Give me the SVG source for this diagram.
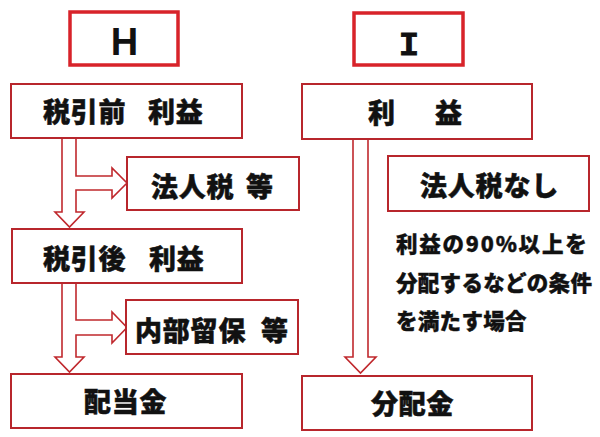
<svg xmlns="http://www.w3.org/2000/svg" width="600" height="437" viewBox="0 0 600 437">
<style>
.hd{fill:#fff;stroke:#d8232a;stroke-width:3.5}
.bx{fill:#fff;stroke:#b8262c;stroke-width:2}
.ar{fill:#fff;stroke:#c0282d;stroke-width:1.6;stroke-linejoin:miter}
.t{font-family:"Noto Sans CJK JP","Noto Sans",sans-serif;font-weight:900;font-size:27px;letter-spacing:0.8px;fill:#111;stroke:#111;stroke-width:0.5}
.s{font-family:"Noto Sans CJK JP","Noto Sans",sans-serif;font-weight:900;font-size:21.5px;letter-spacing:0.3px;fill:#111;stroke:#111;stroke-width:0.4}
</style>
<rect width="600" height="437" fill="#fff"/>
<g id="connectors">
<path class="ar" d="M62,139 V212 H55 L69.5,227 L84,212 H76 V190 H112 V198 L127,183 L112,168 V176 H76 V139"/>
<path class="ar" d="M62,284 V357 H55 L69.5,372 L84,357 H76 V335 H112 V343 L127,327.5 L112,312 V320 H76 V284"/>
<path class="ar" d="M353,140 V357 H345 L360.5,373 L376,357 H368 V140"/>
</g>
<g id="headH"><rect class="hd" x="70" y="12" width="108" height="53"/><text x="124.5" y="55" text-anchor="middle" style="font-family:'Liberation Sans',Arial,sans-serif;font-weight:700;font-size:38px;fill:#111">H</text></g>
<g id="headI"><rect class="hd" x="354" y="13" width="109" height="52"/><text x="409" y="55" text-anchor="middle" style="font-family:'Liberation Mono','Courier New',monospace;font-weight:700;font-size:34px;fill:#111;stroke:#111;stroke-width:0.8">I</text></g>
<g id="pretax"><rect class="bx" x="11" y="84" width="231" height="54"/><text class="t" y="122"><tspan x="43">税引前</tspan><tspan x="148">利益</tspan></text></g>
<g id="corptax"><rect class="bx" x="127" y="157" width="172" height="53"/><text class="t" y="197"><tspan x="151">法人税</tspan><tspan x="246">等</tspan></text></g>
<g id="aftertax"><rect class="bx" x="12" y="229" width="230" height="54"/><text class="t" y="269"><tspan x="43">税引後</tspan><tspan x="149">利益</tspan></text></g>
<g id="retained"><rect class="bx" x="126" y="300" width="172" height="54"/><text class="t" y="341"><tspan x="135">内部留保</tspan><tspan x="261">等</tspan></text></g>
<g id="dividend"><rect class="bx" x="11" y="374" width="231" height="54"/><text class="t" x="84" y="412">配当金</text></g>
<g id="profit"><rect class="bx" x="302" y="84" width="230" height="55"/><text class="t" y="123"><tspan x="368">利</tspan><tspan x="435">益</tspan></text></g>
<g id="notax"><rect class="bx" x="388" y="156" width="201" height="55"/><text class="t" x="420" y="196">法人税なし</text></g>
<g id="condition"><text class="s" x="396" y="252" textLength="191">利益の90%以上を</text><text class="s" x="396" y="291">分配するなどの条件</text><text class="s" x="396" y="329">を満たす場合</text></g>
<g id="distribution"><rect class="bx" x="302" y="376" width="230" height="54"/><text class="t" x="371" y="414">分配金</text></g>
</svg>
